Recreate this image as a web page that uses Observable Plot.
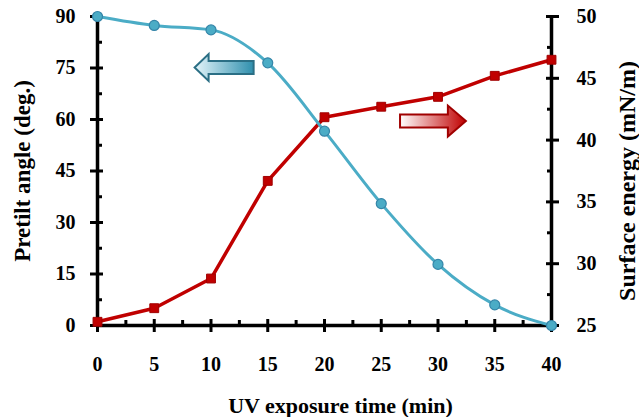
<!DOCTYPE html>
<html><head><meta charset="utf-8">
<script src="https://cdn.jsdelivr.net/npm/d3@7"></script>
<script src="https://cdn.jsdelivr.net/npm/@observablehq/plot@0.6"></script>
<style>body{margin:0;background:#fff}</style>
</head><body><div id="chart"></div>
<script>
// ---- data ----
const times = [0, 5, 10, 15, 20, 25, 30, 35, 40];
const pretilt = [90, 87.4, 86.1, 76.5, 56.6, 35.5, 17.8, 6.0, 0];          // left axis (deg.)
const surfaceEnergy = [25.3, 26.4, 28.8, 36.7, 41.85, 42.7, 43.5, 45.2, 46.5]; // right axis (mN/m)
const xTicks = [0, 5, 10, 15, 20, 25, 30, 35, 40];
const xMinorTicks = [2.5, 7.5, 12.5, 17.5, 22.5, 27.5, 32.5, 37.5];
const leftTicks = [0, 15, 30, 45, 60, 75, 90];
const leftMinorTicks = [7.5, 22.5, 37.5, 52.5, 67.5, 82.5];
const rightTicks = [25, 30, 35, 40, 45, 50];
const rightMinorTicks = [27.5, 32.5, 37.5, 42.5, 47.5];
const xTitle = "UV exposure time (min)";
const leftTitle = "Pretilt angle (deg.)";
const rightTitle = "Surface energy (mN/m)";
// indicator arrows: tail -> tip in x units, y in the axis they point to
const arrowTail = [13.8, 26.7];
const arrowTip = [8.6, 32.5];
const arrowY = [75, 41.5];
const arrowAxis = ["left", "right"];

const L0 = 0, L1 = 90, R0 = 25, R1 = 50;
const toLeft = v => L0 + (v - R0) / (R1 - R0) * (L1 - L0);
const fromLeft = v => R0 + (v - L0) / (L1 - L0) * (R1 - R0);

const blueData = times.map((t, i) => ({t, v: pretilt[i]}));
const redData = times.map((t, i) => ({t, v: toLeft(surfaceEnergy[i])}));

const BLUE = "#4bacc6", BLUE_DARK = "#3585a8", RED = "#c00000";
const ink = {stroke: "black", strokeWidth: 3};
const blank = () => "";
const FS = 20;

function arrows(index, scales) {
  const g = d3.create("svg:g");
  const defs = g.append("defs");
  const styles = [
    {from: "#e4f5fa", to: "#2f8fad", outline: "#2b6f85", head: 14, shaft: 13, headH: 27},
    {from: "#ffffff", to: "#c00000", outline: "#a00000", head: 18, shaft: 13, headH: 31}
  ];
  arrowTail.forEach((tail, i) => {
    const s = styles[i];
    const xt = scales.x(tail), xp = scales.x(arrowTip[i]);
    const yv = arrowAxis[i] === "right" ? toLeft(arrowY[i]) : arrowY[i];
    const y = scales.y(yv);
    const dir = Math.sign(xp - xt);
    const xb = xp - dir * s.head;
    const id = "agrad" + i;
    const gr = defs.append("linearGradient").attr("id", id)
      .attr("gradientUnits", "userSpaceOnUse")
      .attr("x1", dir > 0 ? xt : xp).attr("x2", dir > 0 ? xp : xt).attr("y1", 0).attr("y2", 0);
    gr.append("stop").attr("offset", 0).attr("stop-color", s.from);
    gr.append("stop").attr("offset", 1).attr("stop-color", s.to);
    const hs = s.shaft / 2, hh = s.headH / 2;
    const p = [[xt, y - hs], [xb, y - hs], [xb, y - hh], [xp, y], [xb, y + hh], [xb, y + hs], [xt, y + hs]];
    g.append("path").attr("d", "M" + p.map(q => q.join(",")).join("L") + "Z")
      .attr("fill", `url(#${id})`).attr("stroke", s.outline).attr("stroke-width", 2)
      .attr("stroke-linejoin", "miter");
  });
  return g.node();
}

const chart = Plot.plot({
  width: 639,
  height: 417,
  marginLeft: 97,
  marginRight: 88,
  marginTop: 16,
  marginBottom: 92,
  style: {fontFamily: "'Liberation Serif', 'Times New Roman', serif", fontSize: "20px", fontWeight: "bold", background: "white", color: "black", overflow: "visible"},
  x: {domain: [0, 40], axis: null},
  y: {domain: [L0, L1], axis: null},
  marks: [
    // axis lines
    Plot.ruleY([L0], {...ink, strokeWidth: 3.5}),
    Plot.ruleX([0, 40], {...ink, strokeWidth: 3.5}),
    // x axis ticks (major crossing, minor inside)
    Plot.axisX({ticks: xTicks, tickSize: 13, dy: -6, tickFormat: blank, label: null, ...ink}),
    Plot.axisX({ticks: xMinorTicks, tickSize: 5, dy: -5, tickFormat: blank, label: null, ...ink}),
    Plot.axisX({ticks: xTicks, tickSize: 0, tickPadding: 31, fontSize: FS, label: null}),
    // left axis
    Plot.axisY({anchor: "left", ticks: leftTicks, tickSize: 13, dx: 6, tickFormat: blank, label: null, ...ink}),
    Plot.axisY({anchor: "left", ticks: leftMinorTicks, tickSize: 5, dx: 5, tickFormat: blank, label: null, ...ink}),
    Plot.axisY({anchor: "left", ticks: leftTicks, tickSize: 0, tickPadding: 22, fontSize: FS, label: null}),
    // right axis
    Plot.axisY({anchor: "right", ticks: rightTicks.map(toLeft), tickSize: 13, dx: -6, tickFormat: blank, label: null, ...ink}),
    Plot.axisY({anchor: "right", ticks: rightMinorTicks.map(toLeft), tickSize: 5, dx: -5, tickFormat: blank, label: null, ...ink}),
    Plot.axisY({anchor: "right", ticks: rightTicks.map(toLeft), tickSize: 0, tickPadding: 25, fontSize: FS, tickFormat: d => Math.round(fromLeft(d)), label: null}),
    // axis titles
    Plot.text([xTitle], {text: d => d, frameAnchor: "bottom", dx: 16, dy: 80, textAnchor: "middle", lineAnchor: "middle", fontSize: 22, fill: "black"}),
    Plot.text([leftTitle], {text: d => d, frameAnchor: "left", dx: -75, rotate: -90, textAnchor: "middle", lineAnchor: "middle", fontSize: 23, fill: "black"}),
    Plot.text([rightTitle], {text: d => d, frameAnchor: "right", dx: 76, dy: 10, rotate: -90, textAnchor: "middle", lineAnchor: "middle", fontSize: 24, fill: "black"}),
    // series
    Plot.line(redData, {x: "t", y: "v", stroke: RED, strokeWidth: 3.5}),
    Plot.dot(redData, {x: "t", y: "v", symbol: "square", r: 5, fill: RED, stroke: "#a00000", strokeWidth: 1}),
    Plot.line(blueData, {x: "t", y: "v", stroke: BLUE, strokeWidth: 3, curve: "monotone-x"}),
    Plot.dot(blueData, {x: "t", y: "v", r: 5, fill: BLUE, stroke: BLUE_DARK, strokeWidth: 1.2}),
    arrows
  ]
});
document.getElementById("chart").appendChild(chart);
</script>
</body></html>
